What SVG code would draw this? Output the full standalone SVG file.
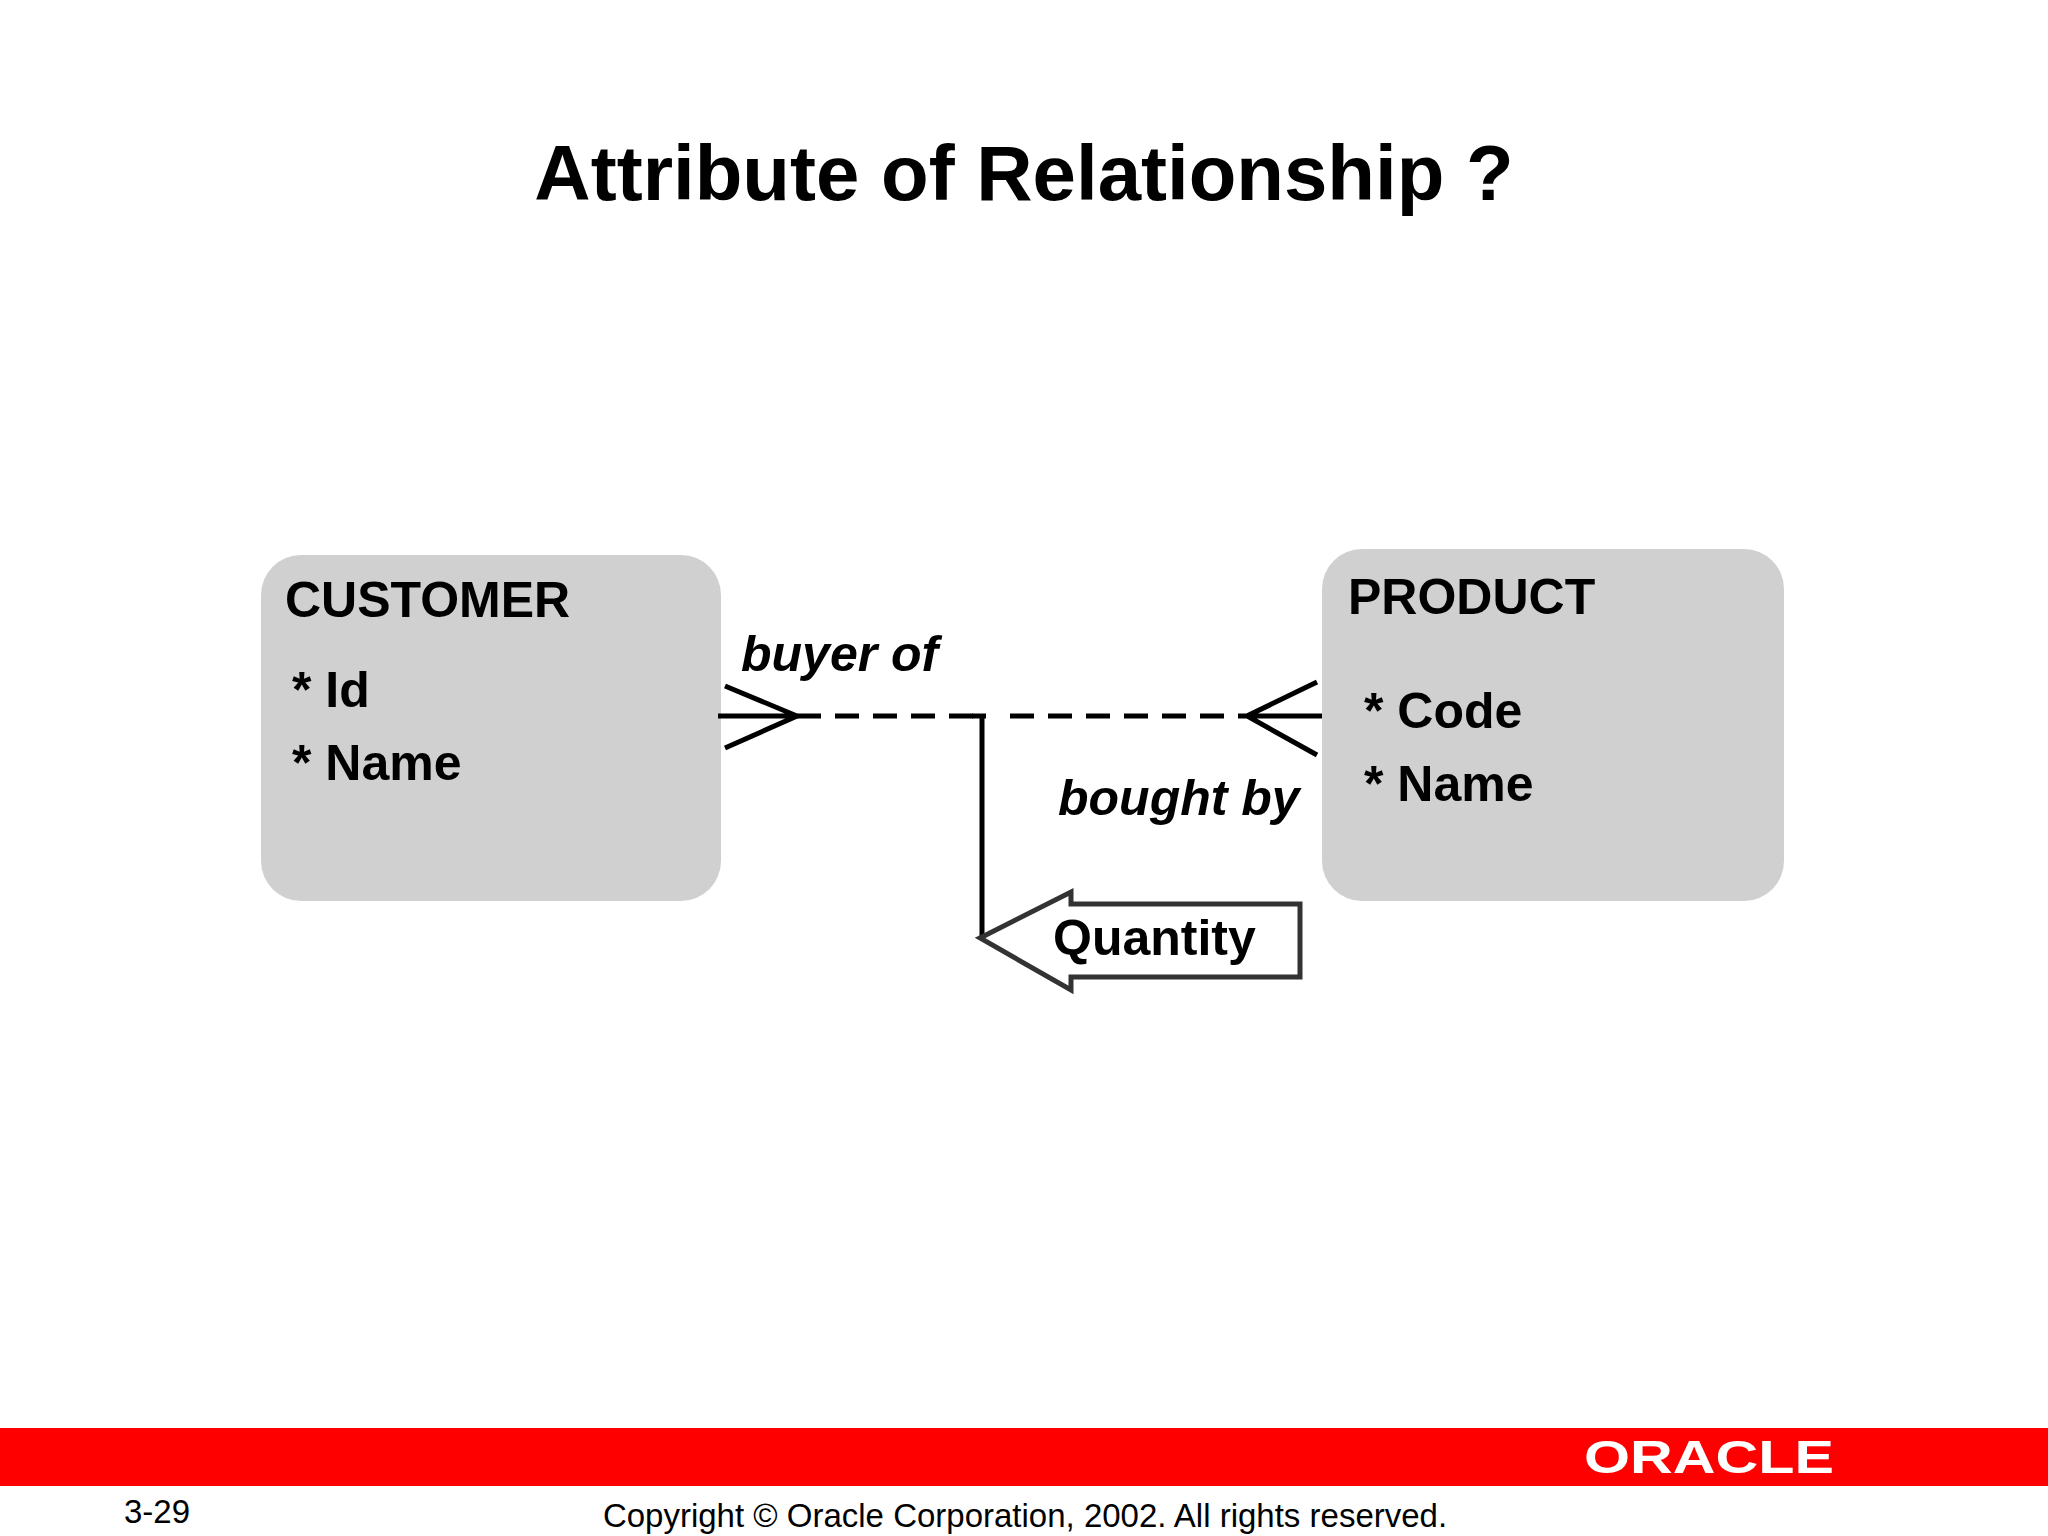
<svg xmlns="http://www.w3.org/2000/svg" width="2048" height="1536" viewBox="0 0 2048 1536">
<style>
.t{font-family:"Liberation Sans",Arial,sans-serif;font-weight:bold;fill:#000}
.box{fill:#d0d0d0}
.ln{stroke:#000;stroke-width:5;fill:none}
.d{stroke:#000;stroke-width:5;stroke-dasharray:24,14;fill:none}
</style>
<rect width="2048" height="1536" fill="#fff"/>
<text class="t" x="1024" y="200" font-size="78" text-anchor="middle">Attribute of Relationship ?</text>
<g id="customer">
<rect class="box" x="261" y="555" width="460" height="346" rx="40"/>
<text class="t" x="285" y="617" font-size="50">CUSTOMER</text>
<text class="t" x="292" y="707" font-size="50">* Id</text>
<text class="t" x="292" y="780" font-size="50">* Name</text>
</g>
<g id="product">
<rect class="box" x="1322" y="549" width="462" height="352" rx="40"/>
<text class="t" x="1348" y="614" font-size="50">PRODUCT</text>
<text class="t" x="1364" y="728" font-size="50">* Code</text>
<text class="t" x="1364" y="801" font-size="50">* Name</text>
</g>
<g id="connectors">
<path class="ln" d="M718 716H797M725 686L797 716L725 748"/>
<path class="d" d="M797 716H982"/>
<path class="d" d="M1010 716H1241"/>
<path class="ln" d="M1241 716H1322M1317 682L1247 716L1317 755"/>
<path class="ln" d="M982 716V938M972 716H986"/>
<text class="t" x="741" y="671" font-size="50" font-style="italic">buyer of</text>
<text class="t" x="1058" y="815" font-size="50" font-style="italic">bought by</text>
</g>
<g id="quantity">
<polygon points="980,938 1071,892 1071,904 1300,904 1300,977 1071,977 1071,990" fill="#fff" stroke="#333" stroke-width="5"/>
<text class="t" x="1053" y="955" font-size="50">Quantity</text>
</g>
<rect x="0" y="1428" width="2048" height="58" fill="#ff0000"/>
<text x="1584" y="1473" font-family="Liberation Sans,Arial,sans-serif" font-size="46" font-weight="bold" fill="#fff" textLength="250" lengthAdjust="spacingAndGlyphs">ORACLE</text>
<text x="124" y="1523" font-family="Liberation Sans,Arial,sans-serif" font-size="33">3-29</text>
<text x="1025" y="1527" font-family="Liberation Sans,Arial,sans-serif" font-size="33" text-anchor="middle">Copyright © Oracle Corporation, 2002. All rights reserved.</text>
</svg>
